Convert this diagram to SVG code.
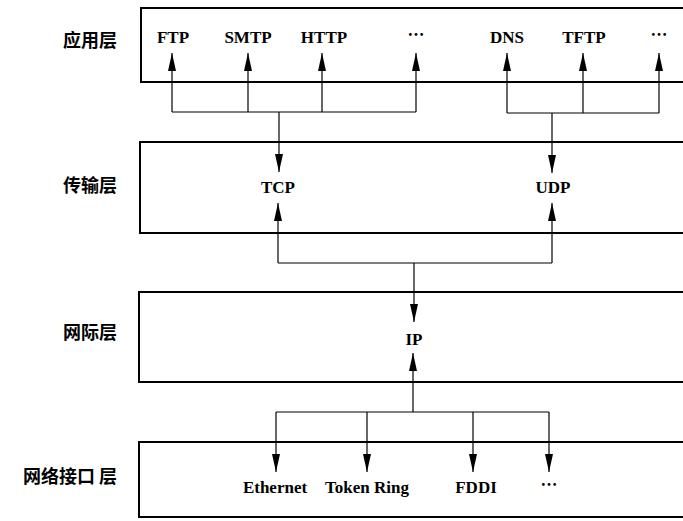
<svg xmlns="http://www.w3.org/2000/svg" width="683" height="521" viewBox="0 0 683 521">
<style>
.box{fill:none;stroke:#000;stroke-width:2}
.layer{font-family:"Noto Sans CJK SC","Noto Sans",sans-serif;font-weight:bold;font-size:18px;fill:#000;text-anchor:end}
.p{font-family:"Liberation Serif","Times New Roman",serif;font-weight:bold;font-size:17px;fill:#000;text-anchor:middle}
.dots{font-family:"Noto Sans CJK SC",sans-serif;font-weight:bold;font-size:17px;fill:#000;text-anchor:middle}
.c{fill:none;stroke:#000;stroke-width:1.2}
</style>
<defs>
<marker id="ah" markerUnits="userSpaceOnUse" markerWidth="20" markerHeight="10" refX="18" refY="4" orient="auto" viewBox="0 0 20 8">
<path d="M0,0 L18,4 L0,8 z" fill="#000"/>
</marker>
</defs>
<rect width="683" height="521" fill="#fff"/>
<g id="app-layer">
<rect class="box" x="141" y="8" width="600" height="74"/>
<text class="layer" x="117" y="47">应用层</text>
<text class="p" x="173" y="43">FTP</text>
<text class="p" x="248" y="43">SMTP</text>
<text class="p" x="324" y="43">HTTP</text>
<text class="dots" x="416" y="41">…</text>
<text class="p" x="507" y="43">DNS</text>
<text class="p" x="584" y="43">TFTP</text>
<text class="dots" x="659" y="41">…</text>
</g>
<g id="transport-layer">
<rect class="box" x="140" y="142" width="600" height="91"/>
<text class="layer" x="117" y="192">传输层</text>
<text class="p" x="278" y="193">TCP</text>
<text class="p" x="553" y="193">UDP</text>
</g>
<g id="internet-layer">
<rect class="box" x="139" y="292" width="600" height="90"/>
<text class="layer" x="117" y="339">网际层</text>
<text class="p" x="414" y="345">IP</text>
</g>
<g id="link-layer">
<rect class="box" x="139" y="442" width="600" height="75"/>
<text class="layer" x="117" y="483">网络接口 层</text>
<text class="p" x="275" y="493">Ethernet</text>
<text class="p" x="367" y="493">Token Ring</text>
<text class="p" x="476" y="493">FDDI</text>
<text class="dots" x="549" y="491">…</text>
</g>
<g id="connectors">
<path class="c" d="M172,112 H416"/>
<path class="c" d="M172,112 V53" marker-end="url(#ah)"/>
<path class="c" d="M248,112 V53" marker-end="url(#ah)"/>
<path class="c" d="M322,112 V53" marker-end="url(#ah)"/>
<path class="c" d="M416,112 V53" marker-end="url(#ah)"/>
<path class="c" d="M279,112 V172" marker-end="url(#ah)"/>
<path class="c" d="M507,113 H659"/>
<path class="c" d="M507,113 V53" marker-end="url(#ah)"/>
<path class="c" d="M583,113 V53" marker-end="url(#ah)"/>
<path class="c" d="M659,113 V53" marker-end="url(#ah)"/>
<path class="c" d="M552,113 V173" marker-end="url(#ah)"/>
<path class="c" d="M278,263 H552"/>
<path class="c" d="M278,263 V203" marker-end="url(#ah)"/>
<path class="c" d="M552,263 V203" marker-end="url(#ah)"/>
<path class="c" d="M414,263 V322" marker-end="url(#ah)"/>
<path class="c" d="M276,412 H549"/>
<path class="c" d="M413,412 V353" marker-end="url(#ah)"/>
<path class="c" d="M276,412 V472" marker-end="url(#ah)"/>
<path class="c" d="M367,412 V472" marker-end="url(#ah)"/>
<path class="c" d="M473,412 V472" marker-end="url(#ah)"/>
<path class="c" d="M549,412 V472" marker-end="url(#ah)"/>
</g>
</svg>
